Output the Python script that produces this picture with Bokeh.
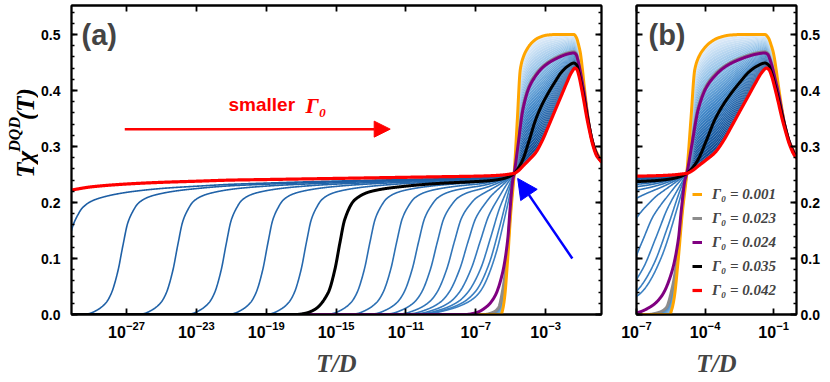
import numpy as np
from math import pi
from bokeh.plotting import figure
from bokeh.layouts import row
from bokeh.models import (LogAxis, LinearAxis, FixedTicker, LogTickFormatter, CustomJSTickFormatter,
                          PrintfTickFormatter, Label, Arrow, NormalHead, Legend, LegendItem, ColumnDataSource)
from bokeh.core.properties import value
from bokeh.embed import file_html
from bokeh.resources import INLINE

# ---------------- data (x = log10(T/D), y = T*chi) ----------------
XC, YC = -4.8, 0.252   # common crossing point

RED_LOGT = [-30.2, -29, -27, -25, -23, -21, -19, -17, -15, -13, -11, -9, -7, -6, -5.5, -5.2, -5.0, -4.8,
            -4.55, -4.3, -3.95, -3.57, -3.2, -2.84, -2.45, -2.11, -1.8, -1.52, -1.31, -1.2, -1.09, -0.95,
            -0.79, -0.65, -0.5, -0.3, -0.07, 0.0, 0.1, 0.2]
RED_Y = [0.222, 0.228, 0.233, 0.236, 0.238, 0.240, 0.241, 0.242, 0.243, 0.244, 0.245, 0.246, 0.247, 0.248,
         0.249, 0.250, 0.251, 0.252,
         0.257, 0.265, 0.276, 0.289, 0.310, 0.336, 0.365, 0.390, 0.413, 0.432, 0.440, 0.437, 0.426, 0.405,
         0.378, 0.353, 0.330, 0.303, 0.283, 0.280, 0.276, 0.272]

ORANGE_LOGT = [-30.2, -5.55, -5.45, -5.35, -5.17, -5.0, -4.8, -4.62, -4.45, -4.25, -4.08, -3.8, -3.42, -2.9,
               -2.4, -1.8, -1.38, -1.23, -1.1, -1.01, -0.9, -0.79, -0.65, -0.5, -0.3, -0.07, 0.0, 0.1, 0.2]
ORANGE_Y = [0.0, 0.0, 0.01, 0.03, 0.10, 0.18, 0.252, 0.348, 0.4375, 0.462, 0.473, 0.485, 0.494, 0.499,
            0.500, 0.500, 0.500, 0.494, 0.480, 0.467, 0.440, 0.408, 0.370, 0.336, 0.307, 0.289, 0.285, 0.280, 0.275]

GRAY_LOGT = [-30.2, -6.5, -6.0, -5.7, -5.45, -5.22, -5.05, -4.92, -4.8,
             -4.59, -4.3, -3.95, -3.57, -3.2, -2.84, -2.45, -2.11, -1.75, -1.38, -1.25, -1.16, -1.05, -0.93,
             -0.79, -0.65, -0.5, -0.3, -0.07, 0.0, 0.1, 0.2]
GRAY_Y = [0.0, 0.0, 0.004, 0.012, 0.045, 0.10, 0.17, 0.22, 0.252,
          0.305, 0.370, 0.408, 0.429, 0.442, 0.451, 0.458, 0.463, 0.467, 0.469, 0.466, 0.457, 0.442, 0.422,
          0.397, 0.366, 0.336, 0.307, 0.287, 0.283, 0.278, 0.274]

PURPLE_LOGT = [-30.2, -7.6, -7.0, -6.34, -5.9, -5.47, -5.17, -5.03, -4.88, -4.8,
               -4.59, -4.3, -3.95, -3.57, -3.2, -2.84, -2.45, -2.11, -1.75, -1.38, -1.25, -1.16, -1.05, -0.93,
               -0.79, -0.65, -0.5, -0.3, -0.07, 0.0, 0.1, 0.2]
PURPLE_Y = [0.0, 0.0, 0.003, 0.015, 0.033, 0.074, 0.134, 0.19, 0.24, 0.252,
            0.300, 0.366, 0.405, 0.426, 0.440, 0.449, 0.456, 0.461, 0.465, 0.467, 0.464, 0.455, 0.440, 0.420,
            0.395, 0.365, 0.336, 0.307, 0.287, 0.283, 0.278, 0.274]

BLACK_LOGT = [-30.2, -17.3, -16.79, -16.22, -15.45, -15.07, -14.78, -14.5, -13.92, -12.97, -11.06, -9.15,
              -7.24, -6.2, -5.52, -5.1, -4.8,
              -4.55, -4.3, -3.95, -3.57, -3.2, -2.84, -2.45, -2.11, -1.75, -1.38, -1.23, -1.1, -0.93,
              -0.79, -0.65, -0.5, -0.3, -0.07, 0.0, 0.1, 0.2]
BLACK_Y = [0.0, 0.0, 0.002, 0.009, 0.039, 0.080, 0.128, 0.170, 0.205, 0.220, 0.229, 0.234,
           0.237, 0.239, 0.242, 0.246, 0.252,
           0.262, 0.277, 0.310, 0.348, 0.375, 0.396, 0.416, 0.432, 0.443, 0.449, 0.446, 0.433, 0.408,
           0.385, 0.360, 0.335, 0.306, 0.285, 0.281, 0.277, 0.273]

# all Gamma_0 values of the family (0.001 ... 0.042)
GAMMA_ALL = [0.001, 0.002, 0.003, 0.004, 0.005, 0.006, 0.007, 0.008, 0.009, 0.010, 0.011, 0.012, 0.013,
             0.014, 0.015, 0.016, 0.017, 0.018, 0.019, 0.020, 0.021, 0.022, 0.023, 0.024, 0.025, 0.026,
             0.027, 0.028, 0.029, 0.030, 0.031, 0.032, 0.033, 0.034, 0.035, 0.036, 0.037, 0.038, 0.039,
             0.040, 0.041, 0.042]

# low-T drop positions (log10 T where T*chi = 0.1) of the blue curves
BLUE_GAMMA = [0.025, 0.026, 0.027, 0.028, 0.029, 0.030, 0.031, 0.032, 0.033, 0.034,
              0.036, 0.037, 0.038, 0.039, 0.040, 0.041]
BLUE_MID = [-5.62, -6.0, -6.48, -7.05, -7.72, -8.48, -9.43, -10.49, -11.73, -13.25,
            -16.88, -19.08, -21.46, -24.23, -27.38, -30.55]

# shape of one low-T step (relative to its drop position)
STEP_D = [-8, -2.2, -1.8, -1.27, -0.8, -0.5, -0.12, 0.17, 0.45, 0.75, 1.03, 1.5, 1.98, 3.0, 3.9, 5.8,
          7.7, 10, 15, 30]
STEP_S = [0, 0, 0.006, 0.037, 0.09, 0.16, 0.33, 0.527, 0.70, 0.79, 0.845, 0.885, 0.905, 0.928, 0.94,
          0.955, 0.963, 0.97, 0.98, 0.99]

X_TICKS_A = [1e-27, 1e-23, 1e-19, 1e-15, 1e-11, 1e-7, 1e-3]
X_TICKS_B = [1e-7, 1e-4, 1e-1]
Y_TICKS = [0.0, 0.1, 0.2, 0.3, 0.4, 0.5]
LEGEND_LABELS = ["Γ₀ = 0.001", "Γ₀ = 0.023", "Γ₀ = 0.024", "Γ₀ = 0.035", "Γ₀ = 0.042"]


# ---------------- smooth monotone (PCHIP) interpolation through the read points ----------------
def pchip(x, y, xn):
    x = np.asarray(x, float)
    y = np.asarray(y, float)
    xn = np.asarray(xn, float)
    h = np.diff(x)
    d = np.diff(y) / h
    m = np.zeros_like(y)
    for k in range(1, len(x) - 1):
        if d[k - 1] * d[k] > 0:
            w1 = 2 * h[k] + h[k - 1]
            w2 = h[k] + 2 * h[k - 1]
            m[k] = (w1 + w2) / (w1 / d[k - 1] + w2 / d[k])
    m[0] = d[0]
    m[-1] = d[-1]
    idx = np.clip(np.searchsorted(x, xn) - 1, 0, len(x) - 2)
    t = np.clip((xn - x[idx]) / h[idx], 0, 1)
    h00 = 2 * t ** 3 - 3 * t ** 2 + 1
    h10 = t ** 3 - 2 * t ** 2 + t
    h01 = -2 * t ** 3 + 3 * t ** 2
    h11 = t ** 3 - t ** 2
    return h00 * y[idx] + h10 * h[idx] * m[idx] + h01 * y[idx + 1] + h11 * h[idx] * m[idx + 1]


# ---------------- derived curves ----------------
U_LOW = np.linspace(-30.2, XC, 1500)
U_UP = np.linspace(XC, 0.2, 300)
U_ALL = np.linspace(-30.2, 0.2, 3000)
X_LOW, X_UP, X_ALL = 10 ** U_LOW, 10 ** U_UP, 10 ** U_ALL

or_up = pchip(ORANGE_LOGT, ORANGE_Y, U_UP)
red_up = pchip(RED_LOGT, RED_Y, U_UP)
plateau = pchip(RED_LOGT, RED_Y, U_LOW)


def frac(g):
    return (g - GAMMA_ALL[0]) / (GAMMA_ALL[-1] - GAMMA_ALL[0])


STOPS = [(0.0, (226, 237, 249)), (0.3, (140, 190, 230)), (0.56, (65, 135, 200)),
         (0.83, (30, 95, 165)), (1.0, (10, 68, 138))]


def cmap(f):
    f = min(max(f, 0.0), 1.0)
    for (f0, c0), (f1, c1) in zip(STOPS[:-1], STOPS[1:]):
        if f <= f1:
            t = (f - f0) / (f1 - f0)
            c = [int(round(a + (b - a) * t)) for a, b in zip(c0, c1)]
            return "#%02x%02x%02x" % tuple(c)
    return "#%02x%02x%02x" % STOPS[-1][1]


def low_color(f):
    return cmap(0.25 + 0.6 * f)


# upper (fan) part of every curve
UPPER = [(1 - frac(g)) * or_up + frac(g) * red_up for g in GAMMA_ALL]

# lower parts of the light curves (between orange and gray)
o_u = ORANGE_LOGT[1:7]
o_y = ORANGE_Y[1:7]
g_u = GRAY_LOGT[1:9]
g_y = GRAY_Y[1:9]
Y_LEV = np.linspace(0, YC, 150)
uo = pchip(o_y, o_u, Y_LEV)
ug = pchip(g_y, g_u, Y_LEV)
LIGHT = []
for g in GAMMA_ALL[1:22]:
    t = (g - 0.001) / 0.022
    uu = (1 - t) * uo + t * ug
    LIGHT.append((g, np.concatenate([[-30.2], uu]), np.concatenate([[0.0], Y_LEV])))

# lower parts of the blue curves
BLUE = []
for g, m in zip(BLUE_GAMMA, BLUE_MID):
    span = XC - m
    w = 1.0 + 1.2 * np.exp(-(span - 1.0) / 3.0)
    s = pchip(STEP_D, STEP_S, (U_LOW - m) / w)
    y = plateau * s
    gap = YC - y[-1]
    ub = XC - 2.2
    t = np.clip((U_LOW - ub) / (XC - ub), 0, 1)
    y = y + gap * t ** 2
    BLUE.append((g, y))

HIGHLIGHT = [("gray", GRAY_LOGT, GRAY_Y, "#8c8c8c", 3),
             ("orange", ORANGE_LOGT, ORANGE_Y, "#ffa500", 3),
             ("purple", PURPLE_LOGT, PURPLE_Y, "#800080", 3),
             ("black", BLACK_LOGT, BLACK_Y, "#000000", 3),
             ("red", RED_LOGT, RED_Y, "#ff0000", 3.2)]

SANS = "Liberation Sans"
SERIF = "Liberation Serif"


def draw(p):
    for k in range(len(GAMMA_ALL) - 1):
        p.varea(x=X_UP, y1=UPPER[k], y2=UPPER[k + 1], fill_color=cmap(frac(GAMMA_ALL[k])), fill_alpha=1.0)
    for g, uu, yy in LIGHT:
        p.line(10 ** uu, yy, line_color=low_color(frac(g)), line_width=1.5, line_join="round")
    for g, yy in BLUE:
        p.line(X_LOW, yy, line_color=low_color(frac(g)), line_width=1.6, line_join="round")
    rs = {}
    for name, uu, yy, col, lw in HIGHLIGHT:
        rs[name] = p.line(X_ALL, pchip(uu, yy, U_ALL), line_color=col, line_width=lw, line_join="round")
    return rs


def style_axis(ax, labels=True):
    ax.axis_line_width = 1.8
    ax.axis_line_color = "black"
    ax.major_tick_in = 6
    ax.major_tick_out = 0
    ax.minor_tick_in = 3
    ax.minor_tick_out = 0
    ax.major_tick_line_width = 1.8
    ax.minor_tick_line_width = 1.3
    ax.major_label_text_font = SANS
    ax.major_label_text_font_style = "bold"
    ax.major_label_text_font_size = "14px"
    ax.major_label_text_color = "black"
    if not labels:
        ax.formatter = CustomJSTickFormatter(code="return ''")
        ax.major_label_text_font_size = "0px"
        ax.major_label_standoff = 0


Y_MINOR = [round(v, 2) for v in np.arange(0.0, 0.56, 0.02)]
FRAME_H = 309
Y_TOP = FRAME_H / 560.0


def make_fig(xr, fw, left, right, xticks, yside):
    p = figure(x_axis_type="log", x_range=xr, y_range=(0, Y_TOP), frame_width=fw, frame_height=FRAME_H,
               min_border_left=left, min_border_right=right, min_border_top=5, min_border_bottom=59,
               output_backend="svg", toolbar_location=None, y_axis_location=yside)
    p.grid.visible = False
    p.outline_line_color = "black"
    p.outline_line_width = 1.8
    p.background_fill_color = "white"
    p.xaxis.ticker = FixedTicker(ticks=xticks, minor_ticks=[])
    p.xaxis.formatter = LogTickFormatter()
    p.yaxis.ticker = FixedTicker(ticks=Y_TICKS, minor_ticks=Y_MINOR)
    p.yaxis.formatter = PrintfTickFormatter(format="%.1f")
    for ax in p.xaxis:
        style_axis(ax)
        ax.major_label_text_font_size = "16px"
        ax.major_label_standoff = 6
        ax.axis_label = "T/D"
        ax.axis_label_text_font = SERIF
        ax.axis_label_text_font_style = "bold italic"
        ax.axis_label_text_font_size = "25px"
        ax.axis_label_standoff = 9
    for ax in p.yaxis:
        style_axis(ax)
        ax.major_label_standoff = 11 if yside == "left" else 4
    top = LogAxis(ticker=FixedTicker(ticks=xticks, minor_ticks=[]))
    style_axis(top, labels=False)
    p.add_layout(top, "above")
    other = LinearAxis(ticker=FixedTicker(ticks=Y_TICKS, minor_ticks=Y_MINOR))
    style_axis(other, labels=False)
    p.add_layout(other, "right" if yside == "left" else "left")
    return p


# narrow strip holding the rotated y-axis title  T chi^DQD (T)
STRIP_W, STRIP_H = 38, 373
py = figure(width=STRIP_W, height=STRIP_H, x_range=(0, STRIP_W), y_range=(0, STRIP_H), min_border=0,
            x_axis_location=None, y_axis_location=None, output_backend="svg", toolbar_location=None)
py.grid.visible = False
py.outline_line_color = None
ytitle = ColumnDataSource(dict(x=[25, 25], y=[161, 232], t=["Tχ", "(T)"]))
py.text(x="x", y="y", text="t", source=ytitle, angle=pi / 2, text_align="left", text_baseline="middle",
        text_font=value(SERIF), text_font_style="bold italic", text_font_size="25px", text_color="black")
ysup = ColumnDataSource(dict(x=[13.5], y=[193], t=["DQD"]))
py.text(x="x", y="y", text="t", source=ysup, angle=pi / 2, text_align="left", text_baseline="middle",
        text_font=value(SERIF), text_font_style="bold italic", text_font_size="16px", text_color="black")

pa = make_fig((10 ** -30.15, 10 ** 0.2), 530, 32, 15, X_TICKS_A, "left")
pb = make_fig((1e-7, 1e0), 160, 20, 27, X_TICKS_B, "right")

draw(pa)
rb = draw(pb)

# panel labels
pa.add_layout(Label(x=10, y=280, x_units="screen", y_units="screen", text="(a)", text_font=SANS,
                    text_font_style="bold", text_font_size="29px", text_baseline="middle"))
pb.add_layout(Label(x=12, y=280, x_units="screen", y_units="screen", text="(b)", text_font=SANS,
                    text_font_style="bold", text_font_size="29px", text_baseline="middle"))

# "smaller Gamma_0" annotation
pa.add_layout(Label(x=157, y=210, x_units="screen", y_units="screen", text="smaller", text_font=SANS,
                    text_font_style="bold", text_font_size="19px", text_color="#ff0000",
                    text_baseline="middle"))
pa.add_layout(Label(x=234, y=209, x_units="screen", y_units="screen", text="Γ₀", text_font=SERIF,
                    text_font_style="bold italic", text_font_size="22px", text_color="#ff0000",
                    text_baseline="middle"))
pa.add_layout(Arrow(end=NormalHead(size=16, fill_color="#ff0000", line_color="#ff0000"),
                    x_start=10 ** -27.1, y_start=0.331, x_end=10 ** -11.9, y_end=0.331,
                    line_color="#ff0000", line_width=2.5))
pa.add_layout(Arrow(end=NormalHead(size=20, fill_color="#0000ff", line_color="#0000ff"),
                    x_start=10 ** -1.47, y_start=0.100, x_end=10 ** -4.6, y_end=0.243,
                    line_color="#0000ff", line_width=2.5))

# legend in panel (b)
names = ["orange", "gray", "purple", "black", "red"]
legend = Legend(items=[LegendItem(label=l, renderers=[rb[n]]) for l, n in zip(LEGEND_LABELS, names)],
                location=(56, 14), background_fill_alpha=0, border_line_alpha=0, glyph_width=10,
                glyph_height=20, spacing=4, label_standoff=10, padding=0, margin=0,
                label_text_font=SERIF, label_text_font_style="bold italic", label_text_font_size="15px")
pb.add_layout(legend)

layout = row(py, pa, pb)
open("out.html", "w").write(file_html(layout, INLINE))
